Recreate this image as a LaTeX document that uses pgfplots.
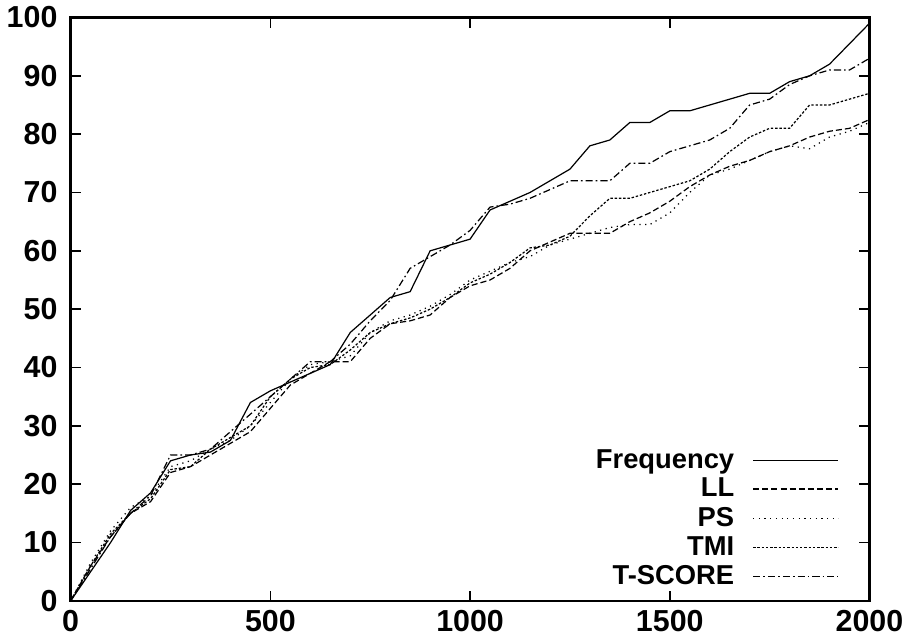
\documentclass[border=0pt]{standalone}
\usepackage{fontspec}
\setmainfont{Liberation Sans}
\usepackage{pgfplots}
\pgfplotsset{compat=1.18}

% curves, one row every 50 units
\pgfplotstableread{
x    freq  ll    ps    tmi   tscore
0    0     0     0     0     0
50   5     6     6.5   6     5.5
100  10    11    12    11.5  11
150  15.5  15    16    15    15
200  18.5  17    18    17.5  18
250  24    22    23    22.5  25
300  25    23    24    23    25
350  25.5  25    26    26    26
400  27.5  27    27.5  28    29
450  34    29    30    30    32
500  36    33    34    35    35
550  37.5  37    38    38    38
600  39    39    40.5  40    41
650  40.5  41    41    40.5  41
700  46    41    42    43    44
750  49    45    46    46    48
800  52    47.5  48    47.5  51.5
850  53    48    49    48.5  57
900  60    49    50.5  50    59
950  61    52    52.5  52    61
1000 62    54    55    54.5  63.5
1050 67    55    56.5  56    67.5
1100 68.5  57    58    58    68
1150 70    60    59    60.5  69
1200 72    61.5  61    61    70.5
1250 74    63    62    62.5  72
1300 78    63    63    66    72
1350 79    63    64    69    72
1400 82    65    64.5  69    75
1450 82    66.5  64.5  70    75
1500 84    68.5  66.5  71    77
1550 84    71    70    72    78
1600 85    73    73    74    79
1650 86    74.5  74    77    81
1700 87    75.5  75.5  79.5  85
1750 87    77    77    81    86
1800 89    78    78    81    88.5
1850 90    79.5  77.5  85    90
1900 92    80.5  79.5  85    91
1950 95.5  81    80.5  86    91
2000 99    82.5  82    87    93
}\curves

\begin{document}
\begin{tikzpicture}
\begin{axis}[
  scale only axis,
  width=393bp, height=287bp,
  xmin=0, xmax=2000, ymin=0, ymax=100,
  xtick={0,500,1000,1500,2000},
  ytick={0,10,...,100},
  tick align=inside,
  major tick length=5bp,
  tick style={line width=0.8bp, black},
  axis line style={line width=1.2bp},
  /pgf/number format/assume math mode=true,
  /pgf/number format/1000 sep={},
  tick label style={font=\bfseries\fontsize{15}{16}\selectfont},
  yticklabel style={xshift=-3bp},
  xticklabel style={yshift=-1bp},
  legend style={draw=none, fill=none, at={(0.965,0.012)}, anchor=south east,
    font=\bfseries\fontsize{13.5}{15}\selectfont, row sep=-0.5bp,
    inner sep=1bp},
  legend plot pos=right,
  legend cell align=right,
  legend image code/.code={\path (0bp,0bp); \draw[#1] (7bp,0bp) -- (49bp,0bp);},
  every axis plot/.append style={black, line width=0.6bp},
]
\addplot[solid] table[x=x, y=freq] {\curves};
\addlegendentry{Frequency}
\addplot[dash pattern=on 3bp off 1.5bp] table[x=x, y=ll] {\curves};
\addlegendentry{LL}
\addplot[dash pattern=on 0.6bp off 2.2bp] table[x=x, y=ps] {\curves};
\addlegendentry{PS}
\addplot[dash pattern=on 1.2bp off 0.9bp] table[x=x, y=tmi] {\curves};
\addlegendentry{TMI}
\addplot[dash pattern=on 3.5bp off 1.5bp on 0.8bp off 1.5bp] table[x=x, y=tscore] {\curves};
\addlegendentry{T-SCORE}
\end{axis}
\end{tikzpicture}
\end{document}
